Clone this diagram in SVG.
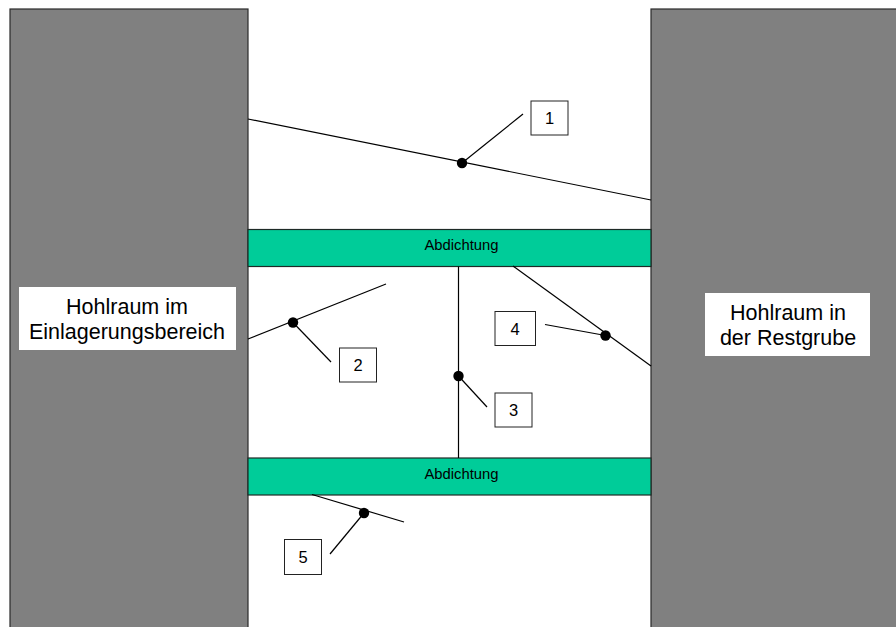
<svg xmlns="http://www.w3.org/2000/svg" width="896" height="627" viewBox="0 0 896 627">
<style>
.rock{fill:#808080;stroke:#2a2a2a;stroke-width:1.2}
.seal{fill:#00CC99;stroke:#1e2a26;stroke-width:1.2}
.lbl{fill:#fff;stroke:none}
.box{fill:#fff;stroke:#222;stroke-width:1}
.ln{stroke:#000;stroke-width:1.2;fill:none}
.dot{fill:#000}
.t{font-family:"Liberation Sans",Arial,sans-serif;fill:#000;text-anchor:middle}
.big{font-size:21.5px}
.mid{font-size:14.8px}
.num{font-size:16.5px}
</style>
<rect x="0" y="0" width="896" height="627" fill="#fff"/>
<g id="left-cavity">
<rect class="rock" x="10" y="9" width="238" height="630"/>
<rect class="lbl" x="19" y="287" width="217" height="63"/>
<text class="t big" x="127" y="313.5">Hohlraum im</text>
<text class="t big" x="127" y="338.5">Einlagerungsbereich</text>
</g>
<g id="right-cavity">
<rect class="rock" x="651" y="9" width="260" height="630"/>
<rect class="lbl" x="705" y="293" width="165" height="63"/>
<text class="t big" x="788" y="319.5">Hohlraum in</text>
<text class="t big" x="788" y="344.5">der Restgrube</text>
</g>
<g id="seal-1">
<rect class="seal" x="248" y="229.5" width="403" height="37"/>
<text class="t mid" x="461.5" y="250">Abdichtung</text>
</g>
<g id="seal-2">
<rect class="seal" x="248" y="458" width="403" height="37"/>
<text class="t mid" x="461.5" y="478.5">Abdichtung</text>
</g>
<g id="connectors">
<line class="ln" x1="248" y1="119" x2="651" y2="200"/>
<line class="ln" x1="462" y1="163" x2="523" y2="114"/>
<line class="ln" x1="248" y1="339" x2="386" y2="284"/>
<line class="ln" x1="293" y1="322.5" x2="331" y2="362"/>
<line class="ln" x1="458.5" y1="266.5" x2="458.5" y2="458"/>
<line class="ln" x1="458.5" y1="376" x2="487" y2="407"/>
<line class="ln" x1="513" y1="266" x2="651" y2="366"/>
<line class="ln" x1="605.5" y1="335.5" x2="545" y2="324.5"/>
<line class="ln" x1="312" y1="494.5" x2="404" y2="522"/>
<line class="ln" x1="364" y1="513" x2="330" y2="554"/>
</g>
<g id="dots">
<circle class="dot" cx="462" cy="163" r="5.2"/>
<circle class="dot" cx="293" cy="322.5" r="5.2"/>
<circle class="dot" cx="458.5" cy="376" r="5.2"/>
<circle class="dot" cx="605.5" cy="335.5" r="5.2"/>
<circle class="dot" cx="364" cy="513" r="5.2"/>
</g>
<g id="label-1"><rect class="box" x="531" y="101" width="37" height="34"/><text class="t num" x="549.5" y="124">1</text></g>
<g id="label-2"><rect class="box" x="339.5" y="348" width="37" height="34"/><text class="t num" x="358" y="371">2</text></g>
<g id="label-3"><rect class="box" x="495" y="393" width="37" height="34"/><text class="t num" x="513.5" y="416">3</text></g>
<g id="label-4"><rect class="box" x="495" y="311.5" width="40.5" height="34"/><text class="t num" x="515" y="334.5">4</text></g>
<g id="label-5"><rect class="box" x="284.5" y="539.5" width="37" height="35"/><text class="t num" x="303" y="563">5</text></g>
</svg>
